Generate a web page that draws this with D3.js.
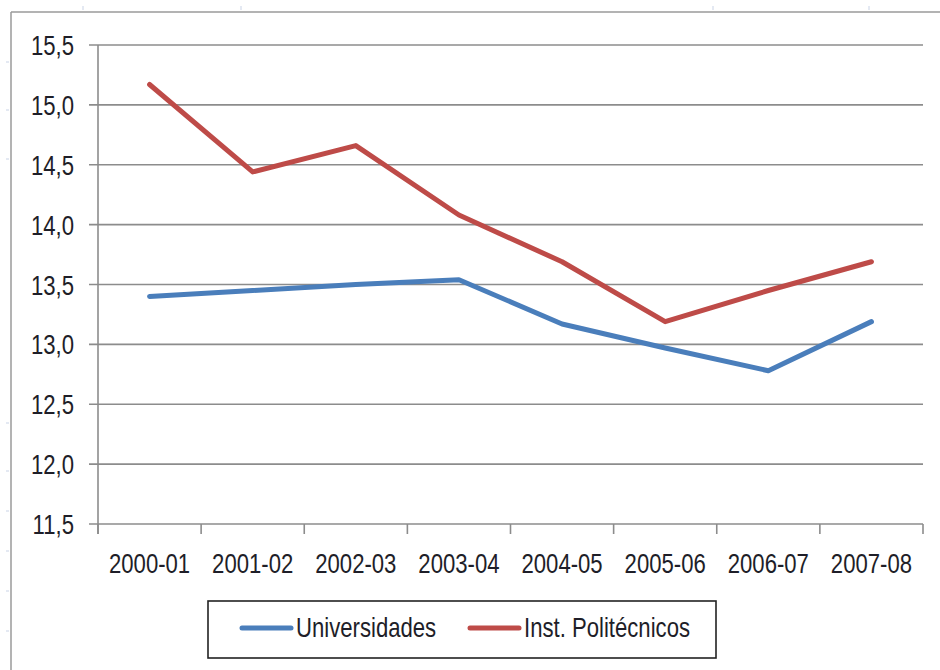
<!DOCTYPE html>
<html>
<head>
<meta charset="utf-8">
<script src="https://cdn.jsdelivr.net/npm/d3@7"></script>
<style>
  body { margin: 0; background: #fff; }
  svg text { font-family: "Liberation Sans", Arial, sans-serif; fill: #1e1e28; }
</style>
</head>
<body>
<div id="graphic"></div>
<script>
// data
const categories = ["2000-01", "2001-02", "2002-03", "2003-04", "2004-05", "2005-06", "2006-07", "2007-08"];
const universidades = [13.40, 13.45, 13.50, 13.54, 13.17, 12.97, 12.78, 13.19];
const politecnicos = [15.17, 14.44, 14.66, 14.08, 13.69, 13.19, 13.45, 13.69];
const yTicks = [11.5, 12.0, 12.5, 13.0, 13.5, 14.0, 14.5, 15.0, 15.5];
const seriesNames = ["Universidades", "Inst. Politécnicos"];

const series = [
  { name: seriesNames[0], values: universidades, color: "#4a7ebb" },
  { name: seriesNames[1], values: politecnicos, color: "#be4b48" }
];

const W = 940, H = 670;
const margin = { left: 98, right: 17, top: 45, bottom: 146 };
const narrow = 0.82; // squeeze Liberation Sans to look like a narrow face
const fontSize = "27px";

const svg = d3.select("#graphic")
  .append("svg")
  .attr("width", W)
  .attr("height", H);

// outer frame, only the top and left edges show in the crop
svg.append("line").attr("x1", 11).attr("x2", W).attr("y1", 12).attr("y2", 12)
  .attr("stroke", "#9a9a9a").attr("stroke-width", 1.5);
svg.append("line").attr("x1", 11).attr("x2", 11).attr("y1", 12).attr("y2", H)
  .attr("stroke", "#9a9a9a").attr("stroke-width", 1.5);
svg.selectAll(".rulerY").data([62, 110, 159, 423, 471, 511, 551, 591, 631]).enter()
  .append("line").attr("x1", 6).attr("x2", 9).attr("y1", d => d).attr("y2", d => d)
  .attr("stroke", "#c9d3e6").attr("stroke-width", 1);
svg.selectAll(".rulerX").data([83, 241, 713, 869]).enter()
  .append("line").attr("x1", d => d).attr("x2", d => d).attr("y1", 6).attr("y2", 10)
  .attr("stroke", "#c9d3e6").attr("stroke-width", 1);

const x = d3.scaleBand()
  .domain(categories)
  .range([margin.left, W - margin.right]);

const y = d3.scaleLinear()
  .domain([11.5, 15.5])
  .range([H - margin.bottom, margin.top]);

const fmt = d => d3.format(".1f")(d).replace(".", ",");

// horizontal grid lines (with the outward tick)
svg.append("g")
  .selectAll("line")
  .data(yTicks)
  .enter()
  .append("line")
  .attr("x1", margin.left - 9)
  .attr("x2", W - margin.right)
  .attr("y1", d => y(d))
  .attr("y2", d => y(d))
  .attr("stroke", "#8c8c8c")
  .attr("stroke-width", 1.6);

// y axis line
svg.append("line")
  .attr("x1", margin.left).attr("x2", margin.left)
  .attr("y1", y(15.5)).attr("y2", y(11.5) + 10)
  .attr("stroke", "#8c8c8c").attr("stroke-width", 1.6);

// x axis ticks at band edges
const edges = categories.map(c => x(c)).concat([x.range()[1]]);
svg.append("g")
  .selectAll("line")
  .data(edges)
  .enter()
  .append("line")
  .attr("x1", d => d).attr("x2", d => d)
  .attr("y1", y(11.5)).attr("y2", y(11.5) + 10)
  .attr("stroke", "#8c8c8c").attr("stroke-width", 1.6);

// y labels
svg.append("g")
  .selectAll("text")
  .data(yTicks)
  .enter()
  .append("text")
  .attr("transform", d => `translate(74, ${y(d) + 10}) scale(${narrow}, 1)`)
  .attr("text-anchor", "end")
  .style("font-size", fontSize)
  .text(fmt);

// x labels
svg.append("g")
  .selectAll("text")
  .data(categories)
  .enter()
  .append("text")
  .attr("transform", d => `translate(${x(d) + x.bandwidth() / 2}, 573) scale(${narrow}, 1)`)
  .attr("text-anchor", "middle")
  .style("font-size", fontSize)
  .text(d => d);

// lines
const line = d3.line()
  .x((d, i) => x(categories[i]) + x.bandwidth() / 2)
  .y(d => y(d));

svg.append("g")
  .selectAll("path")
  .data(series)
  .enter()
  .append("path")
  .attr("d", d => line(d.values))
  .attr("fill", "none")
  .attr("stroke", d => d.color)
  .attr("stroke-width", 5)
  .attr("stroke-linejoin", "round")
  .attr("stroke-linecap", "round");

// legend
const legend = svg.append("g");
legend.append("rect")
  .attr("x", 208).attr("y", 601)
  .attr("width", 508).attr("height", 57)
  .attr("fill", "#fff")
  .attr("stroke", "#222")
  .attr("stroke-width", 1.6);

const legendX = [242, 470];
const item = legend.selectAll(".item")
  .data(series)
  .enter()
  .append("g")
  .attr("transform", (d, i) => `translate(${legendX[i]}, 628)`);
item.append("line")
  .attr("x1", 0).attr("x2", 49)
  .attr("stroke", d => d.color)
  .attr("stroke-width", 5)
  .attr("stroke-linecap", "round");
item.append("text")
  .attr("transform", `translate(54, 9) scale(${narrow}, 1)`)
  .style("font-size", fontSize)
  .text(d => d.name);
</script>
</body>
</html>
